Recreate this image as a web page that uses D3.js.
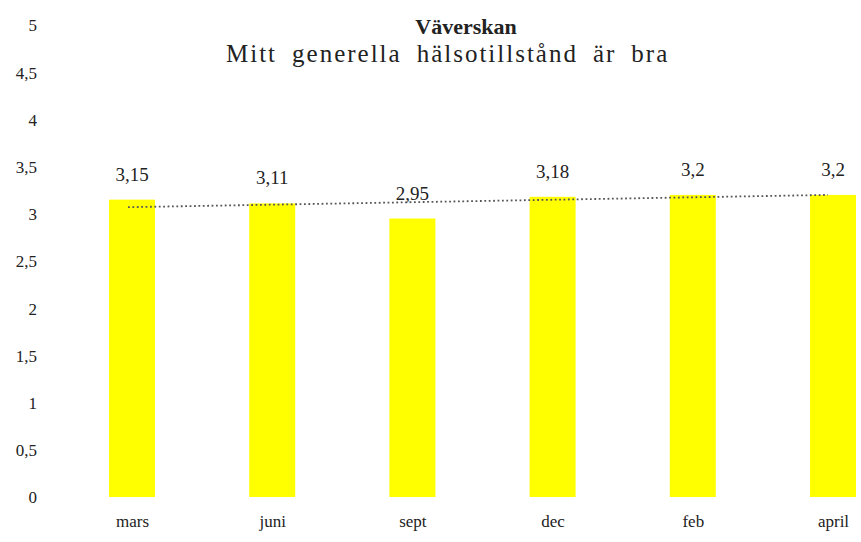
<!DOCTYPE html>
<html>
<head>
<meta charset="utf-8">
<script src="https://cdn.jsdelivr.net/npm/d3@7"></script>
<style>
  body { margin: 0; background: #fff; }
  svg { display: block; }
  text { font-family: "Liberation Serif", "DejaVu Serif", serif; fill: #222; }
</style>
</head>
<body>
<svg width="861" height="542"></svg>
<script>
// values
var categories = ["mars", "juni", "sept", "dec", "feb", "april"];
var values = [3.15, 3.11, 2.95, 3.18, 3.2, 3.2];
var valueLabels = ["3,15", "3,11", "2,95", "3,18", "3,2", "3,2"];
var yTicks = [0, 0.5, 1, 1.5, 2, 2.5, 3, 3.5, 4, 4.5, 5];
var yTickLabels = ["0", "0,5", "1", "1,5", "2", "2,5", "3", "3,5", "4", "4,5", "5"];
// dotted trend line, value at first and last month
var trend = [3.07, 3.2];

var svg = d3.select("svg"),
    width = +svg.attr("width"),
    height = +svg.attr("height");

var barWidth = 46;
var serif = '"Liberation Serif", "DejaVu Serif", serif';

var x = d3.scalePoint()
    .domain(categories)
    .range([132, 833]);

var y = d3.scaleLinear()
    .domain([0, 5])
    .range([497, 25]);

// titles
svg.append("text")
    .attr("x", 466)
    .attr("y", 34)
    .attr("text-anchor", "middle")
    .style("font-size", "22px")
    .style("font-weight", "bold")
    .text("Väverskan");

var sub = svg.append("text")
    .attr("x", 226)
    .attr("y", 62)
    .style("font-size", "25px")
    .style("letter-spacing", "2px")
    .text("Mitt generella hälsotillstånd är bra");
// widen the word gaps so the line spans like the original
var natural = sub.node().getComputedTextLength();
sub.style("word-spacing", Math.max(0, (450 - natural) / 5) + "px");

// y axis, labels only
var yAxis = d3.axisLeft(y)
    .tickValues(yTicks)
    .tickFormat(function (d, i) { return yTickLabels[i]; })
    .tickSize(0)
    .tickPadding(0);

var yg = svg.append("g")
    .attr("transform", "translate(37,0)")
    .call(yAxis)
    .attr("font-family", serif)
    .attr("font-size", 17);
yg.select(".domain").remove();
yg.selectAll("text")
    .attr("dy", "0.35em")
    .attr("fill", "#222");

// bars
svg.append("g")
    .selectAll("rect")
    .data(values)
    .enter().append("rect")
    .attr("x", function (d, i) { return x(categories[i]) - barWidth / 2; })
    .attr("y", function (d) { return y(d); })
    .attr("width", barWidth)
    .attr("height", function (d) { return y(0) - y(d); })
    .attr("fill", "#ffff00");

// trend line
svg.append("line")
    .attr("x1", x(categories[0]) - 4)
    .attr("y1", y(trend[0]))
    .attr("x2", x(categories[categories.length - 1]) - 5)
    .attr("y2", y(trend[1]))
    .attr("stroke", "#555")
    .attr("stroke-width", 1.8)
    .attr("stroke-dasharray", "1.8,2.6");

// value labels
svg.append("g")
    .selectAll("text")
    .data(values)
    .enter().append("text")
    .attr("x", function (d, i) { return x(categories[i]); })
    .attr("y", function (d) { return y(d) - 19; })
    .attr("text-anchor", "middle")
    .style("font-size", "19px")
    .text(function (d, i) { return valueLabels[i]; });

// x axis, labels only
var xAxis = d3.axisBottom(x)
    .tickSize(0)
    .tickPadding(0);

var xg = svg.append("g")
    .attr("transform", "translate(0,515)")
    .call(xAxis)
    .attr("font-family", serif)
    .attr("font-size", 17);
xg.select(".domain").remove();
xg.selectAll("text")
    .attr("dy", "0.71em")
    .attr("fill", "#222");
</script>
</body>
</html>
